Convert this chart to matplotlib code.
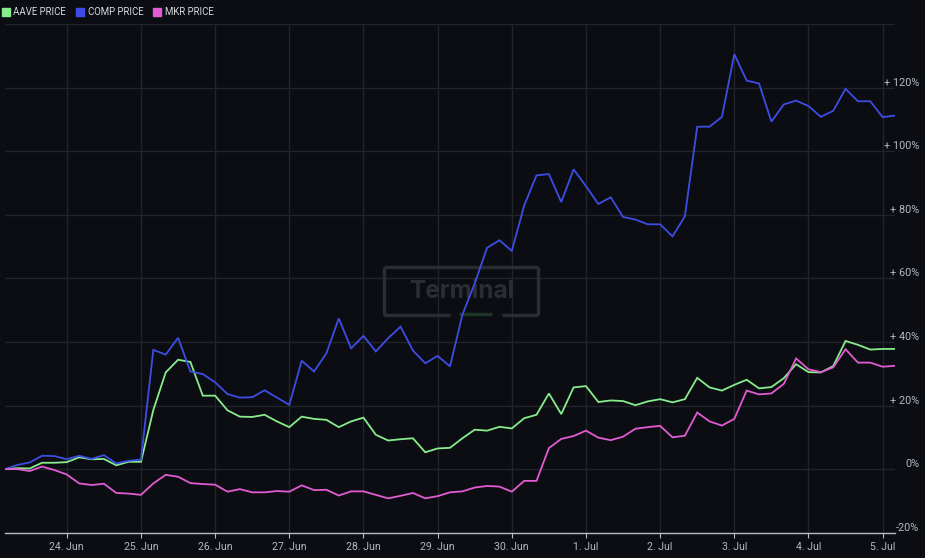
import numpy as np
import pandas as pd
import matplotlib
matplotlib.use("Agg")
import matplotlib.pyplot as plt
import matplotlib.dates as mdates
from matplotlib.lines import Line2D
from matplotlib.patches import Rectangle

plt.rcParams['font.family'] = ['Roboto', 'DejaVu Sans']

# ---------------- data ----------------
series_names = ['AAVE PRICE', 'COMP PRICE', 'MKR PRICE']
series_colors = ['#86ec8c', '#3d4de4', '#e15bd2']

aave = [0, 0.3, 0.2, 2, 2, 2.2, 3.7, 3.1, 3.2, 1.2, 2.3, 2.3, 18.6, 30.4, 34.4, 33.7,
        23.1, 23.1, 18.5, 16.5, 16.4, 17.1, 15, 13.2, 16.5, 15.8, 15.5, 13.2, 15, 16.2,
        10.8, 9, 9.4, 9.7, 5.3, 6.5, 6.7, 9.7, 12.4, 12.1, 13.3, 12.8, 16, 17.1, 23.8,
        17.3, 25.7, 26.1, 21.1, 21.6, 21.4, 20.1, 21.3, 22, 21, 22, 28.7, 25.7, 24.7,
        26.5, 28.1, 25.4, 25.8, 28.6, 33, 30.5, 30.4, 32.4, 40.3, 39.1, 37.6, 37.8, 37.8]
comp = [0, 1.3, 2.1, 4.2, 4.1, 3.1, 4.2, 3.2, 4.4, 1.8, 2.6, 3.0, 37.5, 36, 41.3, 30.7,
        29.9, 27.3, 23.6, 22.5, 22.6, 24.8, 22.5, 20.2, 34.1, 30.7, 36.4, 47.4, 38, 41.9,
        37, 41.2, 44.8, 37.3, 33.3, 35.6, 32.3, 48.5, 58.4, 69.6, 72, 68.6, 82.9, 92.4,
        92.8, 84, 94.3, 89, 83.4, 85.5, 79.3, 78.5, 77, 77, 73.2, 79.5, 107.7, 107.7,
        110.8, 130.5, 122.2, 121.3, 109.3, 114.7, 115.9, 114.2, 110.8, 112.7, 119.6,
        115.7, 115.7, 110.7, 111.2]
mkr = [0, 0, -0.6, 0.8, -0.3, -1.7, -4.5, -5, -4.6, -7.5, -7.7, -8.1, -4.5, -1.8, -2.4,
       -4.4, -4.7, -4.9, -7.1, -6.3, -7.3, -7.3, -6.9, -7.1, -5.1, -6.6, -6.5, -8.3, -7,
       -7, -8.1, -9.2, -8.4, -7.5, -9.2, -8.5, -7.3, -7, -5.8, -5.3, -5.5, -7.1, -3.7,
       -3.7, 6.6, 9.5, 10.4, 12.1, 9.9, 9.1, 10.2, 12.7, 13.2, 13.6, 10, 10.5, 17.8, 15,
       13.7, 15.8, 24.7, 23.5, 23.8, 26.8, 34.8, 31.4, 30.5, 32, 37.7, 33.5, 33.5, 32.2,
       32.5]

start_time = '2021-06-23 04:00'
time_step = '4h'

x_tick_dates = ['2021-06-24', '2021-06-25', '2021-06-26', '2021-06-27', '2021-06-28',
                '2021-06-29', '2021-06-30', '2021-07-01', '2021-07-02', '2021-07-03',
                '2021-07-04', '2021-07-05']
x_tick_labels = ['24. Jun', '25. Jun', '26. Jun', '27. Jun', '28. Jun', '29. Jun',
                 '30. Jun', '1. Jul', '2. Jul', '3. Jul', '4. Jul', '5. Jul']
y_ticks = [-20, 0, 20, 40, 60, 80, 100, 120, 140]
y_tick_labels = ['-20%', '0%', '+ 20%', '+ 40%', '+ 60%', '+ 80%', '+ 100%', '+ 120%', '']

# ---------------- style ----------------
BG = '#0c0d12'
GRID = '#222429'
AXIS = '#b8bcc8'
TXT = '#b4b8c3'
W, H = 925, 558

times = pd.date_range(start_time, periods=len(aave), freq=time_step)

fig = plt.figure(figsize=(W / 100, H / 100), dpi=100, facecolor=BG)
ax = fig.add_axes([5 / W, (H - 532.7) / H, 890 / W, (532.7 - 24) / H])
ax.set_facecolor(BG)

for i, (vals, col) in enumerate(zip([aave, comp, mkr], series_colors)):
    ax.plot(times, vals, color=col, lw=1.3, zorder=3 + i, solid_joinstyle='miter')

ax.set_xlim(times[0], times[-1])
ax.set_ylim(y_ticks[0], y_ticks[-1])

ax.set_xticks(pd.to_datetime(x_tick_dates))
ax.set_xticklabels(x_tick_labels)
ax.yaxis.tick_right()
ax.set_yticks(y_ticks)
ax.set_yticklabels(y_tick_labels, ha='right', va='bottom')

ax.grid(True, color=GRID, lw=1, zorder=0)
ax.set_axisbelow(True)
for s in ['top', 'left', 'right']:
    ax.spines[s].set_visible(False)
ax.spines['bottom'].set_color(AXIS)
ax.spines['bottom'].set_linewidth(1)
ax.spines['bottom'].set_zorder(2)

ax.tick_params(axis='x', length=3.6, width=0.8, color=AXIS, labelcolor=TXT,
               labelsize=7.6, pad=3)
ax.tick_params(axis='y', length=0, labelcolor=TXT, labelsize=7.8, pad=17.6)

# watermark
wm_col = '#2b2d34'
tf = fig.transFigure
def fx(px):
    return px / W
def fy(py):
    return (H - py) / H
wm = dict(color=wm_col, lw=2.4, transform=tf, zorder=1.5, solid_capstyle='butt')
ax.add_line(Line2D([fx(384), fx(538)], [fy(267), fy(267)], **wm))
ax.add_line(Line2D([fx(384), fx(384)], [fy(267), fy(315)], **wm))
ax.add_line(Line2D([fx(538), fx(538)], [fy(267), fy(315)], **wm))
ax.add_line(Line2D([fx(384), fx(450)], [fy(315), fy(315)], **wm))
ax.add_line(Line2D([fx(502), fx(538)], [fy(315), fy(315)], **wm))
ax.add_line(Line2D([fx(459), fx(492)], [fy(314), fy(314)], color='#1d3527', lw=2.4,
                   transform=tf, zorder=1.5, solid_capstyle='butt'))
ax.text(fx(462), fy(291), 'Terminal', transform=tf, color=wm_col, fontsize=17.5,
        fontweight='bold', ha='center', va='center', zorder=1.5, family=['Inter', 'DejaVu Sans'])

# legend
handles = [Line2D([], [], marker='s', ls='', color=c, markersize=5.2) for c in series_colors]
leg = fig.legend(handles, series_names, loc='upper left', bbox_to_anchor=(0.0, 1 - 4.5 / H),
                 ncol=3, frameon=False, fontsize=6.9, labelcolor='#d6d8de',
                 handlelength=0.7, handletextpad=0.45, columnspacing=1.1,
                 borderpad=0, borderaxespad=0.25)

fig.savefig('out.png', dpi=100, facecolor=BG)
